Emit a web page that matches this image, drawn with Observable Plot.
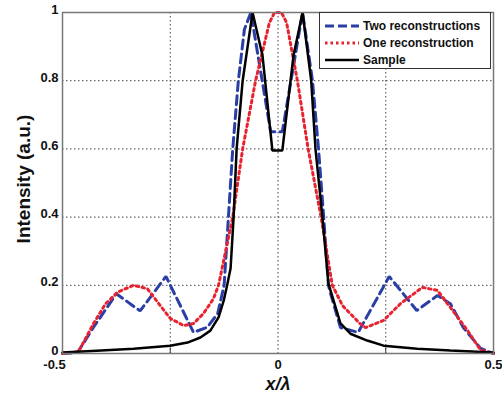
<!DOCTYPE html>
<html>
<head>
<meta charset="utf-8">
<script src="https://cdn.jsdelivr.net/npm/d3@7"></script>
<script src="https://cdn.jsdelivr.net/npm/@observablehq/plot@0.6"></script>
<style>
  body { margin: 0; background: #fff; }
  #wrap { position: relative; width: 502px; height: 396px; font-family: "Liberation Sans", Arial, sans-serif; }
  #legend { position: absolute; left: 319px; top: 12px; width: 172px; height: 57px; background: #fff; border: 1px solid #333; box-sizing: border-box; }
  .row { position: absolute; left: 0; height: 16px; display: flex; align-items: center; font-weight: bold; font-size: 12px; color: #111; }
  .row svg { margin-left: 5px; margin-right: 4px; }
</style>
</head>
<body>
<div id="wrap"></div>
<script>
// ---- data ----
const xTicks = [-0.5, 0, 0.5];
const yTicks = [0, 0.2, 0.4, 0.6, 0.8, 1];
const xGrid = [-0.25, 0, 0.25];
const yGrid = [0.2, 0.4, 0.6, 0.8];

const seriesNames = ["Two reconstructions", "One reconstruction", "Sample"];

const twoX = [-0.5, -0.465, -0.428, -0.375, -0.32, -0.26, -0.196, -0.164, -0.14, -0.125, -0.115, -0.105, -0.092, -0.078, -0.063, -0.017, 0.01, 0.057, 0.08, 0.094, 0.106, 0.117, 0.122, 0.145, 0.186, 0.258, 0.322, 0.37, 0.4, 0.43, 0.47, 0.5];
const twoY = [0, 0.003, 0.077, 0.175, 0.125, 0.226, 0.062, 0.077, 0.117, 0.2, 0.4, 0.6, 0.8, 0.95, 1.0, 0.65, 0.65, 1.0, 0.8, 0.6, 0.4, 0.2, 0.176, 0.076, 0.062, 0.226, 0.126, 0.17, 0.146, 0.076, 0.015, 0];

const oneX = [-0.5, -0.463, -0.428, -0.4, -0.372, -0.335, -0.303, -0.273, -0.25, -0.219, -0.196, -0.173, -0.15, -0.138, -0.105, -0.082, -0.052, -0.02, -0.008, 0.008, 0.02, 0.045, 0.07, 0.1, 0.126, 0.15, 0.19, 0.203, 0.245, 0.284, 0.335, 0.37, 0.4, 0.44, 0.47, 0.5];
const oneY = [0, 0.005, 0.088, 0.146, 0.18, 0.2, 0.19, 0.14, 0.103, 0.082, 0.088, 0.117, 0.16, 0.2, 0.4, 0.6, 0.8, 0.97, 1, 1, 0.97, 0.8, 0.6, 0.4, 0.2, 0.14, 0.088, 0.076, 0.097, 0.146, 0.194, 0.185, 0.135, 0.067, 0.01, 0];

const sampleX = [-0.5, -0.41, -0.335, -0.25, -0.21, -0.18, -0.157, -0.138, -0.126, -0.118, -0.11, -0.103, -0.096, -0.082, -0.059, -0.036, -0.013, 0.01, 0.036, 0.057, 0.077, 0.087, 0.103, 0.117, 0.129, 0.145, 0.168, 0.207, 0.245, 0.323, 0.4, 0.5];
const sampleY = [0.003, 0.009, 0.014, 0.023, 0.032, 0.047, 0.067, 0.106, 0.155, 0.2, 0.25, 0.4, 0.6, 0.8, 1.0, 0.874, 0.595, 0.595, 0.874, 1.0, 0.8, 0.6, 0.4, 0.205, 0.155, 0.088, 0.058, 0.038, 0.023, 0.014, 0.009, 0.003];

const colors = ["#2a3ea6", "#e8232f", "#000000"];

// ---- build tables ----
const toRows = (xs, ys) => xs.map((x, i) => ({x, y: ys[i]}));
const two = toRows(twoX, twoY);
const one = toRows(oneX, oneY);
const sample = toRows(sampleX, sampleY);

const tickStyle = {tickSize: 0, tickPadding: 6, fontSize: 13, fontWeight: "bold", fill: "#111", tickFormat: d => String(d), label: null};

const chart = Plot.plot({
  width: 502,
  height: 396,
  marginLeft: 62,
  marginRight: 9,
  marginTop: 12,
  marginBottom: 43,
  style: {fontFamily: "'Liberation Sans', Arial, sans-serif", background: "#fff", overflow: "visible"},
  x: {domain: [-0.5, 0.5]},
  y: {domain: [0, 1]},
  marks: [
    Plot.gridX(xGrid, {stroke: "#444", strokeOpacity: 1, strokeWidth: 1, strokeDasharray: "1.5,2.5"}),
    Plot.gridY(yGrid, {stroke: "#444", strokeOpacity: 1, strokeWidth: 1, strokeDasharray: "1.5,2.5"}),
    Plot.ruleX([-0.25, 0.25], {y1: 0, y2: 0.016, stroke: "#333", strokeWidth: 1}),
    Plot.axisX(xTicks.filter(d => d < 0), {...tickStyle, dx: -8}),
    Plot.axisX(xTicks.filter(d => d >= 0), tickStyle),
    Plot.axisY(yTicks, {tickSize: 0, tickPadding: 4, dy: -3, fontSize: 13, fontWeight: "bold", fill: "#111", tickFormat: d => String(d), label: null}),
    Plot.line(two, {x: "x", y: "y", stroke: colors[0], strokeWidth: 3, strokeDasharray: "9,5", strokeLinejoin: "miter"}),
    Plot.line(one, {x: "x", y: "y", stroke: colors[1], strokeWidth: 3, strokeDasharray: "2.5,3.5"}),
    Plot.line(sample, {x: "x", y: "y", stroke: colors[2], strokeWidth: 2.5, strokeLinejoin: "miter"}),
    Plot.frame({stroke: "#777", strokeWidth: 1.5}),
    Plot.text(["Intensity (a.u.)"], {frameAnchor: "left", dx: -39, dy: -4, rotate: -90, fontSize: 19, fontWeight: "bold", fill: "#111", textAnchor: "middle"}),
    Plot.text(["x/λ"], {frameAnchor: "bottom", dy: 36, fontSize: 18, fontWeight: "bold", fontStyle: "italic", fill: "#111", textAnchor: "middle"})
  ]
});

const wrap = document.getElementById("wrap");
wrap.appendChild(chart);

// legend
const legend = document.createElement("div");
legend.id = "legend";
const dashes = ["9,4", "2.5,3", null];
const widths = [3, 3, 2.5];
seriesNames.forEach((name, i) => {
  const row = document.createElement("div");
  row.className = "row";
  row.style.top = (5 + i * 17) + "px";
  const svg = d3.create("svg").attr("width", 34).attr("height", 10);
  svg.append("line").attr("x1", 0).attr("x2", 34).attr("y1", 5).attr("y2", 5)
    .attr("stroke", colors[i]).attr("stroke-width", widths[i])
    .attr("stroke-dasharray", dashes[i]);
  row.appendChild(svg.node());
  const span = document.createElement("span");
  span.textContent = name;
  row.appendChild(span);
  legend.appendChild(row);
});
wrap.appendChild(legend);
</script>
</body>
</html>
